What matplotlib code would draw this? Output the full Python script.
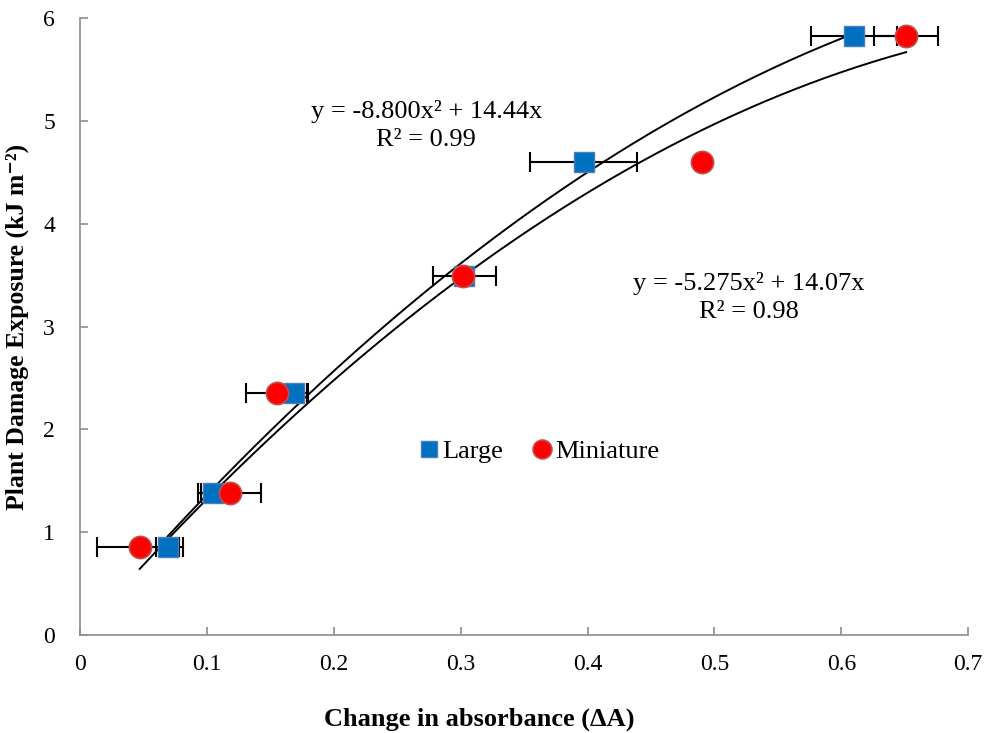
import numpy as np
import matplotlib
matplotlib.use("Agg")
import matplotlib.pyplot as plt

plt.rcParams['font.family'] = ['Liberation Serif', 'DejaVu Serif']

# Data
large_x = [0.069, 0.105, 0.169, 0.303, 0.397, 0.610]
large_y = [0.85, 1.38, 2.35, 3.49, 4.60, 5.83]
large_xerr = [0.009, 0.010, 0.011, 0.025, 0.042, 0.034]

mini_x = [0.047, 0.118, 0.155, 0.302, 0.490, 0.651]
mini_y = [0.85, 1.38, 2.35, 3.49, 4.60, 5.83]
mini_xerr = [0.034, 0.025, 0.024, 0.0, 0.0, 0.025]

large_eq = "y = -8.800x² + 14.44x\nR² = 0.99"
mini_eq = "y = -5.275x² + 14.07x\nR² = 0.98"

xticks = [0, 0.1, 0.2, 0.3, 0.4, 0.5, 0.6, 0.7]
xticklabels = ["0", "0.1", "0.2", "0.3", "0.4", "0.5", "0.6", "0.7"]
yticks = [0, 1, 2, 3, 4, 5, 6]

fig = plt.figure(figsize=(9.88, 7.33), dpi=100)
ax = fig.add_axes([0.081, 0.134, 0.899, 0.841])

# 2nd-order polynomial trend lines with zero intercept (least squares)
for xs, ys in [(large_x, large_y), (mini_x, mini_y)]:
    xs_a = np.asarray(xs)
    A = np.column_stack([xs_a ** 2, xs_a])
    coef, *_ = np.linalg.lstsq(A, np.asarray(ys), rcond=None)
    xx = np.linspace(xs_a.min(), xs_a.max(), 200)
    ax.plot(xx, coef[0] * xx ** 2 + coef[1] * xx, color='black', lw=1.4, zorder=3)

ax.errorbar(large_x, large_y, xerr=large_xerr, fmt='none', ecolor='black',
            elinewidth=1.5, capsize=7, capthick=1.5, zorder=4)
ax.errorbar(mini_x, mini_y, xerr=mini_xerr, fmt='none', ecolor='black',
            elinewidth=1.5, capsize=7, capthick=1.5, zorder=4)

ax.plot(large_x, large_y, 's', color='#0070C0', mec='#4A7EBB', ms=14, mew=1,
        label='Large', zorder=5)
ax.plot(mini_x, mini_y, 'o', color='#FF0000', mec='#C0504D', ms=16, mew=1.2,
        label='Miniature', zorder=6)

ax.set_xlim(0, 0.7)
ax.set_ylim(0, 6)
ax.set_xticks(xticks)
ax.set_xticklabels(xticklabels)
ax.set_yticks(yticks)
for s in ['top', 'right']:
    ax.spines[s].set_visible(False)
for s in ['left', 'bottom']:
    ax.spines[s].set_color('#8c8c8c')
    ax.spines[s].set_linewidth(1.2)
ax.tick_params(direction='in', length=6, color='#8c8c8c', labelsize=17, width=1.2)
ax.tick_params(axis='x', pad=14)
ax.tick_params(axis='y', pad=18)

ax.set_xlabel("Change in absorbance (ΔA)", fontsize=19, fontweight='bold', labelpad=14)
ax.xaxis.set_label_coords(0.449, -0.118)
ax.set_ylabel("Plant Damage Exposure (kJ m⁻²)", fontsize=18.5, fontweight='bold', labelpad=10)

ax.text(0.273, 4.96, large_eq, fontsize=19, ha='center', va='center', linespacing=1.35)
ax.text(0.527, 3.28, mini_eq, fontsize=19, ha='center', va='center', linespacing=1.35)

leg = ax.legend(loc='center', bbox_to_anchor=(0.515, 0.297), ncol=2, frameon=False,
                fontsize=19, handletextpad=0.0, columnspacing=1.0, handlelength=1.0,
                markerscale=0.85, borderpad=0)

fig.savefig("out.png", dpi=100)
